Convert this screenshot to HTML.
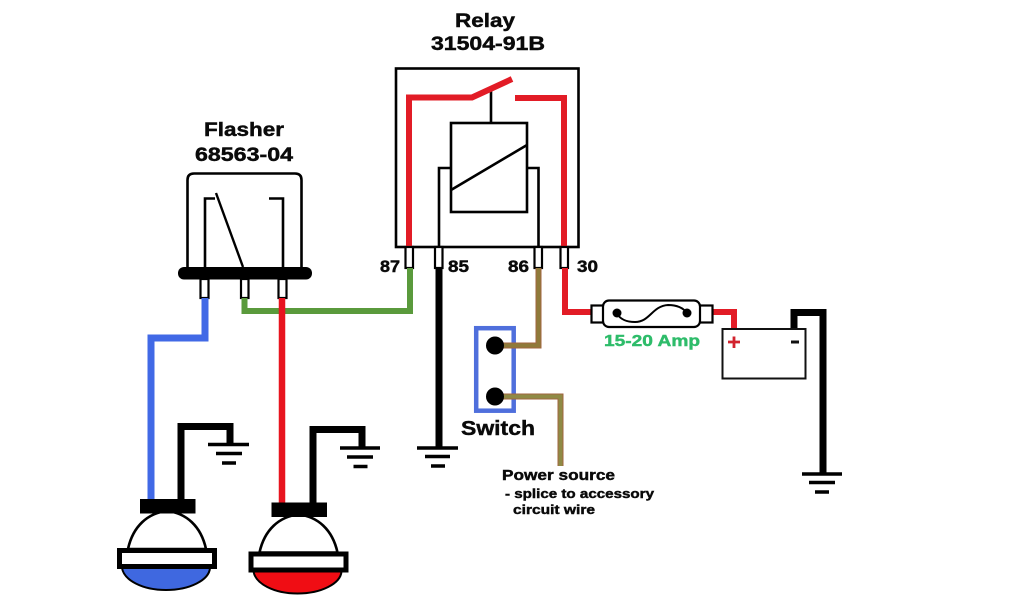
<!DOCTYPE html>
<html>
<head>
<meta charset="utf-8">
<title>Relay and flasher wiring diagram</title>
<style>
html,body{margin:0;padding:0;background:#fff;width:1024px;height:600px;overflow:hidden}
svg{display:block}
text{font-family:"Liberation Sans",sans-serif;font-weight:bold;fill:#0a0a0a;stroke:#0a0a0a;stroke-width:.45px}
</style>
</head>
<body>
<svg width="1024" height="600" viewBox="0 0 1024 600" xmlns="http://www.w3.org/2000/svg" fill="none" stroke-linejoin="miter">
  <!-- Titles -->
  <text x="455" y="27" font-size="19.500" textLength="60" lengthAdjust="spacingAndGlyphs">Relay</text>
  <text x="431" y="50" font-size="19.500" textLength="114" lengthAdjust="spacingAndGlyphs">31504-91B</text>
  <text x="204" y="136" font-size="19.500" textLength="80" lengthAdjust="spacingAndGlyphs">Flasher</text>
  <text x="195" y="161" font-size="19.500" textLength="98" lengthAdjust="spacingAndGlyphs">68563-04</text>

  <!-- Relay -->
  <rect x="396" y="68.500" width="182.500" height="178.500" stroke="#000" stroke-width="2.600"/>
  <rect x="451" y="123" width="76" height="89" stroke="#000" stroke-width="2.600"/>
  <path d="M451 190L527 145" stroke="#000" stroke-width="2.600"/>
  <path d="M491 91V123" stroke="#000" stroke-width="2.600"/>
  <path d="M439 247V168H451M527 168H538.500V247" stroke="#000" stroke-width="2.600"/>
  <path d="M409 247V97.500H472L512 79" stroke="#e21c26" stroke-width="6"/>
  <path d="M515 98H564V247" stroke="#e21c26" stroke-width="6"/>

  <!-- Relay pins -->
  <g stroke="#000" stroke-width="2.200" fill="#fff">
    <rect x="405.500" y="247" width="7.500" height="21"/>
    <rect x="435" y="247" width="7.500" height="21"/>
    <rect x="534.500" y="247" width="7.500" height="21"/>
    <rect x="560.500" y="247" width="7.500" height="21"/>
  </g>
  <text x="380" y="272" font-size="16.500" textLength="20" lengthAdjust="spacingAndGlyphs">87</text>
  <text x="448" y="272" font-size="16.500" textLength="21" lengthAdjust="spacingAndGlyphs">85</text>
  <text x="508" y="272" font-size="16.500" textLength="21" lengthAdjust="spacingAndGlyphs">86</text>
  <text x="577" y="272" font-size="16.500" textLength="21" lengthAdjust="spacingAndGlyphs">30</text>

  <!-- Flasher -->
  <path d="M187.500 268V180Q187.500 173.500 194 173.500H295Q301.500 173.500 301.500 180V268" stroke="#000" stroke-width="2.600"/>
  <rect x="178" y="267" width="134" height="12.500" rx="6" fill="#000"/>
  <path d="M205 267V198.500H215M269 198.500H283V267" stroke="#000" stroke-width="2.600"/>
  <path d="M216 193L243 267" stroke="#000" stroke-width="2.400"/>
  <g stroke="#000" stroke-width="2.200" fill="#fff">
    <rect x="200.500" y="279" width="8" height="19"/>
    <rect x="241" y="279" width="7.500" height="19"/>
    <rect x="278.500" y="279" width="8" height="19"/>
  </g>

  <!-- Flasher wires -->
  <path d="M410 268V311H244.500V298" stroke="#5a9a3c" stroke-width="6"/>
  <path d="M205 298V338H151V500" stroke="#4169e6" stroke-width="7"/>
  <path d="M282 298V503" stroke="#e8141f" stroke-width="6.500"/>

  <!-- Blue lamp -->
  <g>
    <path d="M181 500V426.500H230V444" stroke="#000" stroke-width="7"/>
    <path d="M208 444.500H249" stroke="#000" stroke-width="3.500"/>
    <path d="M216 453.500H242" stroke="#000" stroke-width="3.500"/>
    <path d="M222 463H236" stroke="#000" stroke-width="3.500"/>
    <path d="M128 549C133 526 148 513 167 511C186 513 201 526 206 549Z" fill="#fff" stroke="#000" stroke-width="2.600"/>
    <path d="M122 568H210C209 580 190 590 166 590C142 590 124 580 122 568Z" fill="#3f68e0" stroke="#000" stroke-width="2"/>
    <rect x="119.500" y="550.500" width="95" height="16" fill="#fff" stroke="#000" stroke-width="5"/>
    <rect x="140" y="499" width="55.500" height="14.500" fill="#000"/>
  </g>

  <!-- Red lamp -->
  <g>
    <path d="M313 503V429.500H362V447" stroke="#000" stroke-width="7"/>
    <path d="M340 448H380" stroke="#000" stroke-width="3.500"/>
    <path d="M347 457H373" stroke="#000" stroke-width="3.500"/>
    <path d="M353.500 466.500H367.500" stroke="#000" stroke-width="3.500"/>
    <path d="M259.500 552.500C264.500 529.500 279.500 516.500 298.500 514.500C317.500 516.500 332.500 529.500 337.500 552.500Z" fill="#fff" stroke="#000" stroke-width="2.600"/>
    <path d="M253.500 571.500H341.500C340.500 583.500 321.500 593.500 297.500 593.500C273.500 593.500 255.500 583.500 253.500 571.500Z" fill="#f00d14" stroke="#000" stroke-width="2"/>
    <rect x="251" y="554" width="95" height="16" fill="#fff" stroke="#000" stroke-width="5"/>
    <rect x="271.500" y="502.500" width="55.500" height="14.500" fill="#000"/>
  </g>

  <!-- Centre ground -->
  <path d="M439 268V448" stroke="#000" stroke-width="7"/>
  <path d="M417 448H458" stroke="#000" stroke-width="3.500"/>
  <path d="M425 456.500H450" stroke="#000" stroke-width="3.500"/>
  <path d="M431 466H445" stroke="#000" stroke-width="3.500"/>

  <!-- Switch -->
  <rect x="476.200" y="328.200" width="37.500" height="82.500" stroke="#4f6fdc" stroke-width="4.500"/>
  <path d="M495 345.500H538.500V268" stroke="#a1653f" stroke-width="6"/>
  <path d="M495 345.500H538.500V268" stroke="#8f7a3a" stroke-width="4"/>
  <path d="M495 396.500H560.500V466" stroke="#a1653f" stroke-width="6"/>
  <path d="M495 396.500H560.500V466" stroke="#8f8a45" stroke-width="4"/>
  <circle cx="495" cy="345.500" r="9" fill="#000"/>
  <circle cx="495" cy="396.500" r="9" fill="#000"/>
  <text x="461" y="435" font-size="20.500" textLength="74" lengthAdjust="spacingAndGlyphs">Switch</text>
  <text x="502" y="480" font-size="14.500" textLength="113" lengthAdjust="spacingAndGlyphs">Power source</text>
  <text x="505" y="498" font-size="13" textLength="149" lengthAdjust="spacingAndGlyphs">- splice to accessory</text>
  <text x="513" y="514" font-size="13" textLength="82" lengthAdjust="spacingAndGlyphs">circuit wire</text>

  <!-- Fuse and battery wiring -->
  <path d="M565 268V312H592" stroke="#e21c26" stroke-width="6"/>
  <path d="M712 312H734V330" stroke="#e21c26" stroke-width="6"/>
  <rect x="591.500" y="305.500" width="121" height="17" fill="#fff" stroke="#000" stroke-width="2.200"/>
  <rect x="603" y="300.500" width="97" height="26.500" rx="6" fill="#fff" stroke="#000" stroke-width="2.200"/>
  <path d="M617 313C620 320 628 322 635 322C650 322 652 306 668 305C678 305 684 309 687 313" stroke="#000" stroke-width="2"/>
  <circle cx="617" cy="313" r="4.500" fill="#000"/>
  <circle cx="687" cy="313" r="4.500" fill="#000"/>
  <text x="604" y="346" font-size="16" textLength="96" lengthAdjust="spacingAndGlyphs" style="fill:#2ebc6a;stroke:#2ebc6a">15-20 Amp</text>

  <!-- Battery -->
  <path d="M794 329V312.500H823V474" stroke="#000" stroke-width="7"/>
  <rect x="722.500" y="329" width="83" height="49.500" fill="#fff" stroke="#111" stroke-width="2"/>
  <path d="M728 342H740M734 336.500V348" stroke="#d2232e" stroke-width="2.800"/>
  <path d="M791 342H799" stroke="#111" stroke-width="3"/>
  <path d="M802 474H842" stroke="#000" stroke-width="3.500"/>
  <path d="M809 482.500H835" stroke="#000" stroke-width="3.500"/>
  <path d="M815 492H829" stroke="#000" stroke-width="3.500"/>
</svg>
</body>
</html>
